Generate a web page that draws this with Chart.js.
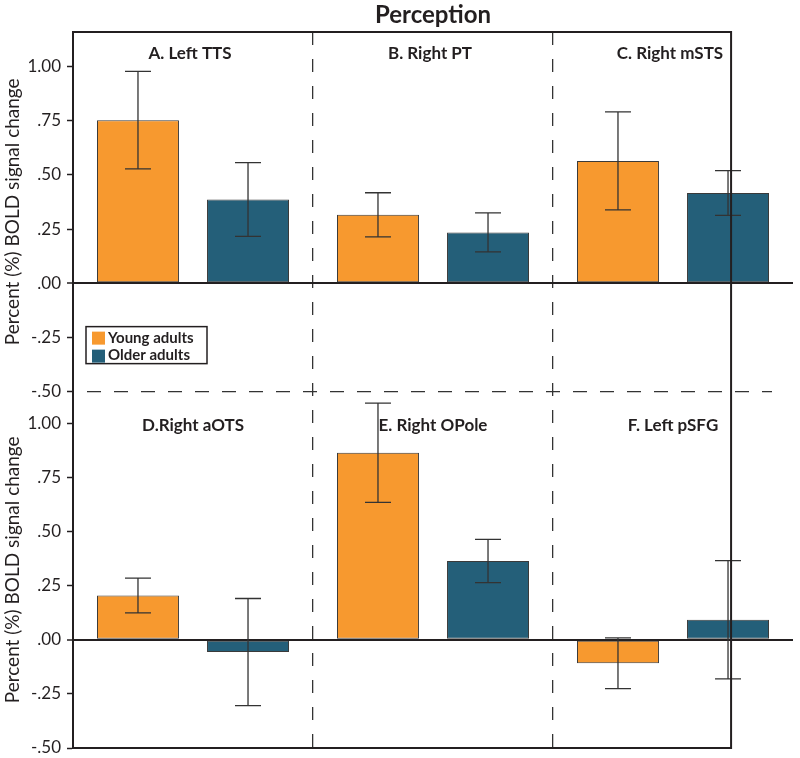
<!DOCTYPE html>
<html>
<head>
<meta charset="utf-8">
<script src="https://cdn.jsdelivr.net/npm/chart.js@4/dist/chart.umd.min.js"></script>
<style>
    html, body { margin: 0; padding: 0; background: #fff; }
    #wrap { width: 800px; height: 758px; }
</style>
</head>
<body>
<div id="wrap"><canvas id="perceptionChart"></canvas></div>
<script>
var groups = ['Young adults', 'Older adults'];
var topRegions = ['A. Left TTS', 'B. Right PT', 'C. Right mSTS'];
var bottomRegions = ['D.Right aOTS', 'E. Right OPole', 'F. Left pSFG'];

var topYoung = [0.753, 0.316, 0.565];
var topYoungErr = [0.225, 0.102, 0.226];
var topOlder = [0.387, 0.235, 0.417];
var topOlderErr = [0.17, 0.09, 0.103];

var bottomYoung = [0.204, 0.863, -0.109];
var bottomYoungErr = [0.08, 0.229, 0.117];
var bottomOlder = [-0.057, 0.363, 0.092];
var bottomOlderErr = [0.247, 0.1, 0.273];

var yTicks = [-0.5, -0.25, 0, 0.25, 0.5, 0.75, 1.0];

var orange = '#f7992f';
var blue = '#245f79';
var ink = '#231f20';
var font = 'Lato';

function tickLabel(v) {
    return Number(v).toFixed(2).replace(/^(-?)0\./, '$1.');
}

function makeY(max, weight) {
    return {
        type: 'linear',
        axis: 'y',
        position: 'left',
        stack: 'panels',
        stackWeight: weight,
        min: -0.5,
        max: max,
        stacked: false,
        afterBuildTicks: function(s) {
            s.ticks = yTicks.map(function(v) { return { value: v }; });
        },
        afterFit: function(s) {
            s.width = 73;
            s.paddingTop = 0;
            s.paddingBottom = 0;
        },
        ticks: {
            callback: tickLabel,
            color: ink,
            padding: 6,
            font: { family: font, size: 17 }
        },
        grid: {
            color: function(c) { return c.tick && c.tick.value === 0 ? ink : 'transparent'; },
            lineWidth: function(c) { return c.tick && c.tick.value === 0 ? 2 : 1; },
            tickColor: ink,
            tickLength: 6,
            tickWidth: 1.5
        },
        border: { color: ink, width: 2 },
        title: {
            display: true,
            text: 'Percent (%) BOLD signal change',
            color: ink,
            font: { family: font, size: 19 },
            padding: { top: 1, bottom: 0 }
        }
    };
}

// error bars, frame, panel names, legend, title
var decor = {
    id: 'decor',
    afterDatasetsDraw: function(chart) {
        var ctx = chart.ctx;
        var area = chart.chartArea;
        var x = chart.scales.x;
        var yTop = chart.scales.yTop;
        var yBottom = chart.scales.yBottom;

        ctx.save();
        ctx.strokeStyle = '#333';
        ctx.lineWidth = 1.3;
        chart.data.datasets.forEach(function(ds, i) {
            var meta = chart.getDatasetMeta(i);
            var ys = chart.scales[ds.yAxisID];
            meta.data.forEach(function(bar, j) {
                var hi = ys.getPixelForValue(ds.data[j] + ds.err[j]);
                var lo = ys.getPixelForValue(ds.data[j] - ds.err[j]);
                ctx.beginPath();
                ctx.moveTo(bar.x, hi); ctx.lineTo(bar.x, lo);
                ctx.moveTo(bar.x - 13, hi); ctx.lineTo(bar.x + 13, hi);
                ctx.moveTo(bar.x - 13, lo); ctx.lineTo(bar.x + 13, lo);
                ctx.stroke();
            });
        });

        // frame
        var frameRight = area.left + (area.right - area.left) * 0.914;
        ctx.strokeStyle = ink;
        ctx.lineWidth = 2;
        ctx.beginPath();
        ctx.moveTo(area.left, area.top);
        ctx.lineTo(frameRight, area.top);
        ctx.lineTo(frameRight, area.bottom);
        ctx.lineTo(area.left, area.bottom);
        ctx.stroke();

        // dashed separator between panels
        ctx.lineWidth = 1.3;
        ctx.strokeStyle = '#333';
        ctx.setLineDash([14, 13]);
        ctx.beginPath();
        ctx.moveTo(area.left + 14, yTop.bottom);
        ctx.lineTo(area.right - 21, yTop.bottom);
        ctx.stroke();
        ctx.setLineDash([]);

        // panel names
        ctx.fillStyle = ink;
        ctx.textAlign = 'center';
        ctx.textBaseline = 'middle';
        ctx.font = 'bold 17px ' + font;
        topRegions.forEach(function(name, j) {
            ctx.fillText(name, x.getPixelForValue(j) - 3, yTop.getPixelForValue(1.06));
        });
        bottomRegions.forEach(function(name, j) {
            ctx.fillText(name, x.getPixelForValue(j), yBottom.getPixelForValue(0.99));
        });

        // legend
        var lx = area.left + 13;
        var ly = yTop.getPixelForValue(-0.2);
        ctx.fillStyle = '#fff';
        ctx.fillRect(lx, ly, 121, 37);
        ctx.strokeStyle = ink;
        ctx.lineWidth = 1.5;
        ctx.strokeRect(lx, ly, 121, 37);
        ctx.textAlign = 'left';
        ctx.font = 'bold 15px ' + font;
        [orange, blue].forEach(function(col, k) {
            ctx.fillStyle = col;
            ctx.fillRect(lx + 6, ly + 5 + k * 18, 13, 13);
            ctx.fillStyle = ink;
            ctx.fillText(groups[k], lx + 22, ly + 12 + k * 17);
        });

        // title
        ctx.textAlign = 'center';
        ctx.font = 'bold 24px ' + font;
        ctx.fillText('Perception', (area.left + area.right) / 2, 15);
        ctx.restore();
    }
};

var ctx = document.getElementById('perceptionChart').getContext('2d');
var perceptionChart = new Chart(ctx, {
    type: 'bar',
    data: {
        labels: topRegions,
        datasets: [
            { label: groups[0], data: topYoung, err: topYoungErr, yAxisID: 'yTop', stack: 'young', backgroundColor: orange },
            { label: groups[1], data: topOlder, err: topOlderErr, yAxisID: 'yTop', stack: 'older', backgroundColor: blue },
            { label: groups[0], data: bottomYoung, err: bottomYoungErr, yAxisID: 'yBottom', stack: 'young', backgroundColor: orange },
            { label: groups[1], data: bottomOlder, err: bottomOlderErr, yAxisID: 'yBottom', stack: 'older', backgroundColor: blue }
        ]
    },
    options: {
        responsive: true,
        maintainAspectRatio: false,
        animation: false,
        layout: { padding: { top: 32, right: 7, bottom: 10, left: 0 } },
        datasets: {
            bar: {
                categoryPercentage: 0.917,
                barPercentage: 0.745,
                borderWidth: 1,
                borderColor: '#3a3a3a',
                borderSkipped: false
            }
        },
        plugins: {
            legend: { display: false },
            title: { display: false },
            tooltip: { enabled: false }
        },
        scales: {
            x: {
                offset: true,
                ticks: { display: false },
                grid: {
                    offset: true,
                    drawTicks: false,
                    color: function(c) { return (c.index === 1 || c.index === 2) ? '#333' : 'transparent'; },
                    lineWidth: 1.3
                },
                border: { display: false, dash: [13, 14] }
            },
            yBottom: makeY(1.145, 1.645),
            yTop: makeY(1.16, 1.66)
        }
    },
    plugins: [decor]
});
</script>
</body>
</html>
